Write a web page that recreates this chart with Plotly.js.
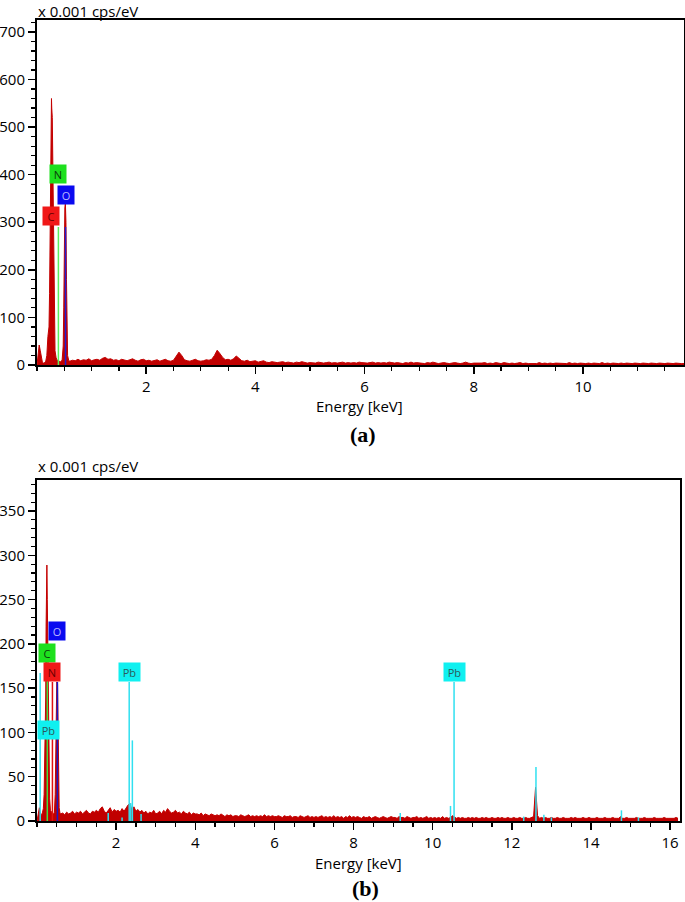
<!DOCTYPE html>
<html><head><meta charset="utf-8">
<script src="https://cdn.plot.ly/plotly-3.0.1.min.js"></script>
<style>html,body{margin:0;padding:0;background:#fff;} #chart{width:685px;height:902px;}</style>
</head><body><div id="chart"></div>
<script>
// ---------- Spectrum (a) ----------
const aLowE = [0.00,0.02,0.04,0.06,0.08,0.10,0.12,0.14,0.16,0.18,0.20,0.22,0.23,0.24,0.25,0.26,0.265,0.27,0.28,0.29,0.30,0.31,0.32,0.33,0.35,0.37,0.40,0.43,0.46,0.48,0.49,0.50,0.51,0.52,0.53,0.54,0.55,0.56,0.58];
const aLowC = [0,20,42,30,12,5,4,5,8,20,60,80,150,280,420,520,560,540,520,400,250,120,60,30,15,10,8,7,10,40,120,260,330,340,300,180,60,20,10];
const aContStart = 0.60, aContStep = 0.05;
const aContC = [8,10,9,12,9,11,10,13,9,
 11,12,10,14,16,12,13,10,11,9,
 12,10,9,11,13,10,8,11,12,9,
 10,8,9,11,8,10,12,9,8,10,
 18,27,20,11,9,8,10,12,9,8,
 9,11,10,12,20,31,24,16,11,12,
 10,13,19,14,9,8,10,7,8,9,
 6,7,9,6,5,7,6,5,6,7,
 5,6,5,4,6,5,7,5,4,5,
 5,4,6,5,4,5,6,4,5,4,
 5,6,4,5,4,5,4,6,5,4,
 4,5,6,4,5,4,5,4,6,5,
 4,5,4,3,5,4,6,4,5,4,
 4,3,5,4,6,4,3,4,5,4,
 3,4,5,4,3,4,6,4,3,4,
 4,3,4,5,3,4,3,5,4,3,
 5,4,3,4,3,4,5,3,4,3,
 3,4,3,5,3,4,3,4,3,4,
 4,3,4,3,5,3,4,3,4,3,
 3,4,3,4,3,3,5,3,4,3,
 4,3,3,4,3,4,3,3,4,3,
 3,4,3,3,4,3,3,4,3,3,
 4,3,3,4,3,3,3];
const aTickVals = [2,4,6,8,10];
// element markers (a)
const aMarkE = [0.392, 0.522];
const aMarkH = [290, 290];
const aMarkColor = ['#5CEB5C', '#2020D0'];
const aLabels = ['N','O','C'];
const aLabelE = [0.385, 0.53, 0.265];
const aLabelY = [401, 357, 313];
const aLabelBg = ['#1EE01E','#0A0AF0','#F01818'];
const aLabelFg = ['#0A3A0A','#B8B8FF','#6A0000'];

// ---------- Spectrum (b) ----------
const bLowE = [0.00,0.02,0.04,0.06,0.08,0.10,0.12,0.14,0.16,0.18,0.20,0.22,0.23,0.24,0.25,0.26,0.27,0.28,0.29,0.30,0.32,0.34,0.36,0.38,0.40,0.42,0.44,0.46,0.48,0.49,0.50,0.52,0.53,0.54,0.56,0.58];
const bLowC = [0,5,12,15,10,8,6,10,14,30,70,140,220,270,289,250,200,170,120,60,25,12,10,9,8,8,10,30,100,150,157,155,130,60,15,9];
const bContStart = 0.60, bContStep = 0.05;
const bContC = [8,9,7,10,8,9,11,8,10,
 9,11,8,10,12,9,8,11,10,12,
 10,14,16,11,9,12,15,10,13,11,
 12,10,14,11,15,18,20,12,16,11,
 13,10,12,9,11,8,10,9,12,8,
 9,11,8,12,10,14,11,9,10,12,
 9,10,8,11,9,8,10,7,9,8,
 8,7,9,6,8,7,6,8,7,6,
 7,6,8,6,5,7,6,7,5,6,
 6,5,7,6,5,6,7,5,6,5,
 6,5,6,5,7,5,6,5,6,5,
 5,6,5,4,6,5,5,6,4,5,
 5,4,6,5,4,5,6,4,5,4,
 5,4,5,6,4,5,4,5,4,6,
 4,5,4,5,3,5,4,6,4,5,
 4,5,4,3,5,4,4,5,3,4,
 5,4,3,4,5,4,3,4,5,4,
 4,3,5,4,4,3,5,4,3,4,
 4,5,3,4,3,4,5,3,4,3,
 4,3,4,3,5,3,4,3,4,6,
 4,3,4,3,4,3,3,4,3,4,
 3,4,3,3,4,3,4,3,3,4,
 3,3,4,3,4,3,3,4,3,3,
 4,3,3,4,3,3,4,3,3,4,
 5,38,6,3,4,3,4,3,3,4,
 3,3,4,3,3,4,3,3,3,4,
 3,4,3,3,3,4,3,3,4,3,
 3,3,4,3,3,3,4,3,3,3,
 4,3,3,3,5,3,3,4,3,3,
 3,3,4,3,3,3,4,3,3,3,
 3,4,3,3,3,3,4,3,3,3,
 3,3,4,3];
const bTickVals = [2,4,6,8,10,12,14,16];
// Pb (cyan) lines (b)
const bPbE = [0.08,1.80,2.15,2.33,2.37,2.41,2.63,9.18,10.45,10.54,12.30,12.61,12.81,13.00,14.77,15.20];
const bPbH = [167,9,4,157,20,91,8,9,17,157,5,61,7,4,12,4];
// other element markers (b)
const bMarkE = [0.26, 0.39, 0.515];
const bMarkH = [181, 157, 157];
const bMarkColor = ['#40E040', '#E01010', '#1818C8'];
const bLabels = ['O','C','N','Pb','Pb','Pb'];
const bLabelE = [0.51, 0.26, 0.37, 0.30, 2.33, 10.56];
const bLabelY = [214, 190, 168, 103, 168, 168];
const bLabelBg = ['#0A0AF0','#1EE01E','#F01818','#10F0F0','#10F0F0','#10F0F0'];
const bLabelFg = ['#B8B8FF','#0A3A0A','#6A0000','#2A5A5A','#2A5A5A','#2A5A5A'];

const tickFont = {family:'Open Sans', size:15, color:'#000'};

function build(lowE, lowC, start, step, cont) {
  const x = lowE.slice(), y = lowC.slice();
  cont.forEach((v, i) => { x.push(+(start + i*step).toFixed(3)); y.push(v); });
  return {x, y};
}
function stems(E, H) {
  const x = [], y = [];
  E.forEach((e, i) => { x.push(e, e, null); y.push(0, H[i], null); });
  return {x, y};
}

const A = build(aLowE, aLowC, aContStart, aContStep, aContC);
const B = build(bLowE, bLowC, bContStart, bContStep, bContC);

const traces = [];
traces.push({x:A.x, y:A.y, xaxis:'x', yaxis:'y', type:'scatter', mode:'lines',
  line:{color:'#C40000', width:1}, fill:'tozeroy', fillcolor:'#C00000', hoverinfo:'skip'});
aMarkE.forEach((e,i) => {
  const s = stems([e],[aMarkH[i]]);
  traces.push({x:s.x, y:s.y, xaxis:'x', yaxis:'y', type:'scatter', mode:'lines', line:{color:aMarkColor[i], width:1.5}});
});
traces.push({x:B.x, y:B.y, xaxis:'x2', yaxis:'y2', type:'scatter', mode:'lines',
  line:{color:'#C40000', width:1}, fill:'tozeroy', fillcolor:'#C00000', hoverinfo:'skip'});
bMarkE.forEach((e,i) => {
  const s = stems([e],[bMarkH[i]]);
  traces.push({x:s.x, y:s.y, xaxis:'x2', yaxis:'y2', type:'scatter', mode:'lines', line:{color:bMarkColor[i], width:1.5}});
});
const pb = stems(bPbE, bPbH);
traces.push({x:pb.x, y:pb.y, xaxis:'x2', yaxis:'y2', type:'scatter', mode:'lines', line:{color:'#30E0F0', width:1.5}});

const W = 685, H = 902;
const px = v => v / W, py = v => 1 - v / H;

function xax(domain, range, tv) {
  return {domain, range, showline:true, mirror:true, linecolor:'#000', linewidth:2,
    showgrid:false, zeroline:false, ticks:'outside', ticklen:7, tickwidth:1.5, tickcolor:'#000',
    tickmode:'array', tickvals:tv, ticktext:tv.map(String), tickfont:tickFont, fixedrange:true,
    minor:{tickmode:'linear', tick0:0, dtick:0.5, ticks:'outside', ticklen:4, tickwidth:1.2, tickcolor:'#000', showgrid:false}};
}
function yax(domain, range, dt, mdt, anchor) {
  return {domain, range, anchor, showline:true, mirror:true, linecolor:'#000', linewidth:2,
    showgrid:false, zeroline:false, ticks:'outside', ticklen:7, tickwidth:1.5, tickcolor:'#000',
    dtick:dt, tick0:0, tickfont:tickFont, fixedrange:true,
    minor:{dtick:mdt, ticks:'outside', ticklen:4, tickwidth:1.2, tickcolor:'#000', showgrid:false}};
}

const ann = [];
function txt(text, x, y, xanchor, font) {
  ann.push({text, xref:'paper', yref:'paper', x:px(x), y:py(y), xanchor, yanchor:'middle', showarrow:false, font});
}
txt('x 0.001 cps/eV', 36, 11, 'left', tickFont);
txt('x 0.001 cps/eV', 36, 466, 'left', tickFont);
txt('Energy [keV]', 359, 406, 'center', tickFont);
txt('Energy [keV]', 358, 863, 'center', tickFont);
txt('<b>(a)</b>', 363, 434, 'center', {family:'Liberation Serif', size:22, color:'#000'});
txt('<b>(b)</b>', 366, 888, 'center', {family:'Liberation Serif', size:22, color:'#000'});

function labels(L, E, Y, bg, fg, xr, yr) {
  L.forEach((t,i) => ann.push({text:t, xref:xr, yref:yr, x:E[i], y:Y[i], xanchor:'center', yanchor:'middle',
    showarrow:false, bgcolor:bg[i], borderpad:2, width: t.length > 1 ? 17 : 12, height:14,
    font:{family:'Open Sans', size:11, color:fg[i]}}));
}
labels(aLabels, aLabelE, aLabelY, aLabelBg, aLabelFg, 'x', 'y');
labels(bLabels, bLabelE, bLabelY, bLabelBg, bLabelFg, 'x2', 'y2');

const layout = {
  width:W, height:H, margin:{l:0,r:0,t:0,b:0}, paper_bgcolor:'#fff', plot_bgcolor:'#fff',
  showlegend:false,
  xaxis: Object.assign(xax([px(37), px(684)], [0, 11.85], aTickVals), {anchor:'y'}),
  yaxis: yax([py(365), py(20)], [0, 725], 100, 20, 'x'),
  xaxis2: Object.assign(xax([px(37), px(680)], [0, 16.25], bTickVals), {anchor:'y2'}),
  yaxis2: yax([py(821), py(480)], [0, 385], 50, 10, 'x2'),
  annotations: ann
};
Plotly.newPlot('chart', traces, layout, {staticPlot:true, displayModeBar:false});
</script></body></html>
